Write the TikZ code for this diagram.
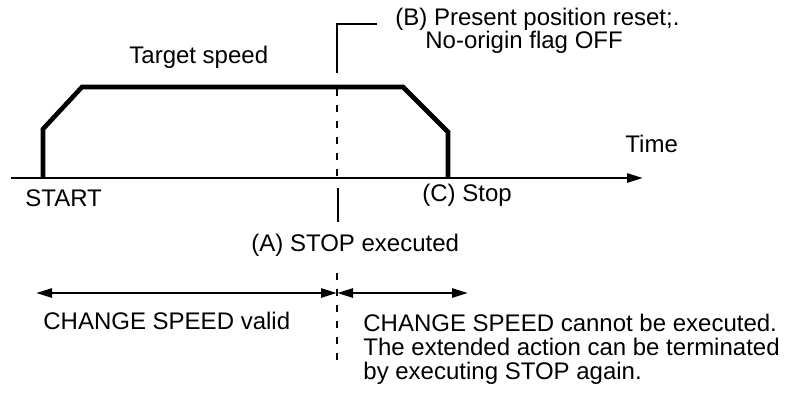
\documentclass[tikz,border=0pt]{standalone}
\usepackage{fontspec}
\setmainfont{Liberation Sans}
\usetikzlibrary{arrows.meta}

\begin{document}
\begin{tikzpicture}[x=0.5pt,y=-0.5pt,font=\fontsize{12}{12}\selectfont,
        txt/.style={anchor=base west,inner sep=0pt},
        profile/.style={line width=2.3pt,line join=miter},
        stopline/.style={line width=0.9pt},
        dashline/.style={line width=0.9pt,dash pattern=on 3.25pt off 4.75pt},
        tip/.style={-{Triangle[length=8pt,width=4.5pt]}},
        twotip/.style={{Triangle[length=8pt,width=4.5pt]}-{Triangle[length=8pt,width=4.5pt]}}]
        \useasboundingbox (0,0) rectangle (785,393);
        % time axis
        \coordinate (t0) at (11,178);
        \coordinate (t1) at (643,178);
        \draw[tip,line width=1.3pt] (t0) -- (t1);
        \node[txt] (time) at (625,152) {Time};
        % speed profile
        \coordinate (p0) at (43,178);
        \coordinate (p1) at (43,129);
        \coordinate (p2) at (82,87);
        \coordinate (p3) at (403,87);
        \coordinate (p4) at (448,132);
        \coordinate (p5) at (448,178);
        \draw[profile] (p0) -- (p1) -- (p2) -- (p3) -- (p4) -- (p5);
        \node[txt] (target) at (129,63) {Target speed};
        \node[txt] (start) at (25,206) {START};
        \node[txt] (stopc) at (422,201) {(C) Stop};
        % STOP executed marker
        \coordinate (b1) at (377,24);
        \coordinate (b2) at (337,24);
        \coordinate (b3) at (337,73);
        \draw[stopline] (b1) -- (b2) -- (b3);
        \coordinate (d1) at (337,89);
        \coordinate (d2) at (337,178);
        \draw[dashline] (d1) -- (d2);
        \coordinate (a1) at (338,188);
        \coordinate (a2) at (338,222);
        \draw[stopline] (a1) -- (a2);
        \coordinate (d3) at (337,273);
        \coordinate (d4) at (337,362);
        \draw[dashline] (d3) -- (d4);
        \node[txt] (presB) at (395,25) {(B) Present position reset;.};
        \node[txt] (flagB) at (425,48) {No-origin flag OFF};
        \node[txt] (stopA) at (251,251) {(A) STOP executed};
        % CHANGE SPEED ranges
        \coordinate (l) at (36,293);
        \coordinate (m) at (337,293);
        \coordinate (r) at (468,293);
        \draw[twotip,line width=1.3pt] (l) -- (m);
        \draw[twotip,line width=1.3pt] (m) -- (r);
        \node[txt] (valid) at (43,329) {CHANGE SPEED valid};
        \node[txt] (nochg1) at (363,331) {CHANGE SPEED cannot be executed.};
        \node[txt] (nochg2) at (363,355) {The extended action can be terminated};
        \node[txt] (nochg3) at (363,379) {by executing STOP again.};
    \end{tikzpicture}
\end{document}
